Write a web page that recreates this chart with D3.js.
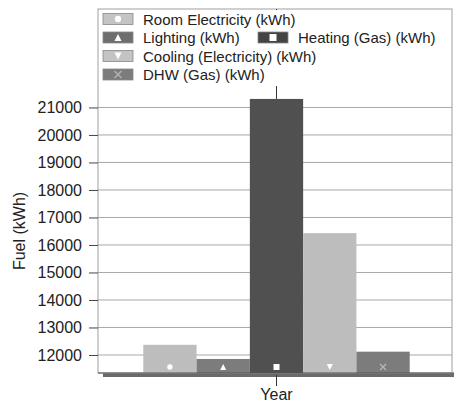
<!DOCTYPE html>
<html>
<head>
<meta charset="utf-8">
<script src="https://cdnjs.cloudflare.com/ajax/libs/d3/7.8.5/d3.min.js"></script>
<style>
  body { margin: 0; background: #fff; }
  text { font-family: "Liberation Sans", Arial, sans-serif; }
</style>
</head>
<body>
<div id="chart"></div>
<script>
// data
const categories = ['Year'];
const seriesNames = ['Room Electricity (kWh)', 'Lighting (kWh)', 'Heating (Gas) (kWh)', 'Cooling (Electricity) (kWh)', 'DHW (Gas) (kWh)'];
const seriesValues = [12370, 11855, 21310, 16430, 12120];
const seriesSymbols = ['circle', 'triUp', 'square', 'triDown', 'cross'];
const yTicks = [12000, 13000, 14000, 15000, 16000, 17000, 18000, 19000, 20000, 21000];
const yDomain = [11345, 24580];

const width = 454, height = 403;
const margin = { top: 9, right: 2, bottom: 30, left: 98 };
const fills = ['#bdbdbd', '#7c7c7c', '#505050', '#bdbdbd', '#7c7c7c'];
const swatchFills = ['#c4c4c4', '#6e6e6e', '#444444', '#c4c4c4', '#7c7c7c'];

const svg = d3.select('#chart')
    .append('svg')
    .attr('width', width)
    .attr('height', height);

let x = d3.scaleBand()
    .domain(categories)
    .range([margin.left, width + 1]);

let xSub = d3.scaleBand()
    .domain(seriesNames)
    .paddingOuter(0.85)
    .range([0, x.bandwidth()]);

let y = d3.scaleLinear()
    .domain(yDomain)
    .range([height - margin.bottom, margin.top]);

// shadow under plot area
svg.append('rect')
    .attr('x', margin.left + 5)
    .attr('y', y(yDomain[0]))
    .attr('width', width - margin.left - 5)
    .attr('height', 4)
    .attr('fill', '#6a6a6a');

// frame
svg.append('rect')
    .attr('x', margin.left)
    .attr('y', margin.top)
    .attr('width', width - margin.right - margin.left)
    .attr('height', y(yDomain[0]) - margin.top)
    .attr('fill', '#fff')
    .attr('stroke', '#b0b0b0')
    .attr('stroke-width', 1.2);

// gridlines
svg.append('g')
    .selectAll('line')
    .data(yTicks)
    .enter()
    .append('line')
    .attr('x1', margin.left)
    .attr('x2', width - margin.right)
    .attr('y1', d => y(d))
    .attr('y2', d => y(d))
    .attr('stroke', '#a8a8a8')
    .attr('stroke-width', 1);

// y axis
let yAxis = (g) => g
    .attr('transform', `translate(${margin.left},0)`)
    .call(d3.axisLeft(y).tickValues(yTicks).tickSize(9).tickPadding(7).tickFormat(d3.format('d')));

svg.append('g')
    .call(yAxis)
    .call(g => g.select('.domain').remove())
    .call(g => g.selectAll('.tick line').attr('stroke', '#444'))
    .call(g => g.selectAll('.tick text')
        .attr('font-size', '16px')
        .attr('fill', '#222')
        .style('font-family', '"Liberation Sans", Arial, sans-serif'));

// top tick (behind bars and legend)
const cx = x('Year') + x.bandwidth() / 2;
svg.append('line')
    .attr('x1', cx).attr('x2', cx)
    .attr('y1', margin.top)
    .attr('y2', y(seriesValues[2]))
    .attr('stroke', '#333');

// bars
svg.append('g')
    .selectAll('rect')
    .data(seriesNames)
    .enter()
    .append('rect')
    .attr('x', d => x('Year') + xSub(d))
    .attr('y', (d, i) => y(seriesValues[i]))
    .attr('width', xSub.bandwidth())
    .attr('height', (d, i) => y(yDomain[0]) - y(seriesValues[i]))
    .attr('fill', (d, i) => fills[i]);

// markers
function drawSymbol(g, type, cxx, cyy, s) {
    if (type === 'circle') {
        g.append('circle').attr('cx', cxx).attr('cy', cyy).attr('r', s * 0.45).attr('fill', '#fff');
    } else if (type === 'square') {
        g.append('rect').attr('x', cxx - s / 2).attr('y', cyy - s / 2).attr('width', s).attr('height', s).attr('fill', '#fff');
    } else if (type === 'triUp') {
        g.append('path').attr('d', `M${cxx},${cyy - s / 2}L${cxx + s / 2},${cyy + s / 2}L${cxx - s / 2},${cyy + s / 2}Z`).attr('fill', '#fff');
    } else if (type === 'triDown') {
        g.append('path').attr('d', `M${cxx - s / 2},${cyy - s / 2}L${cxx + s / 2},${cyy - s / 2}L${cxx},${cyy + s / 2}Z`).attr('fill', '#fff');
    } else {
        g.append('path').attr('d', `M${cxx - s / 2},${cyy - s / 2}L${cxx + s / 2},${cyy + s / 2}M${cxx + s / 2},${cyy - s / 2}L${cxx - s / 2},${cyy + s / 2}`)
            .attr('stroke', '#b8b8b8').attr('stroke-width', 1.2).attr('fill', 'none');
    }
}

const markers = svg.append('g');
seriesNames.forEach((d, i) => {
    drawSymbol(markers, seriesSymbols[i], x('Year') + xSub(d) + xSub.bandwidth() / 2, y(yDomain[0]) - 6, 6);
});

// bottom axis line and tick
svg.append('line')
    .attr('x1', margin.left).attr('x2', width)
    .attr('y1', y(yDomain[0])).attr('y2', y(yDomain[0]))
    .attr('stroke', '#555').attr('stroke-width', 1);
svg.append('line')
    .attr('x1', cx).attr('x2', cx)
    .attr('y1', y(yDomain[0]) + 2)
    .attr('y2', y(yDomain[0]) + 13)
    .attr('stroke', '#333');

svg.append('text')
    .attr('x', cx)
    .attr('y', 400)
    .attr('text-anchor', 'middle')
    .attr('font-size', '16px')
    .attr('fill', '#222')
    .text(categories[0]);

// y label
svg.append('text')
    .attr('transform', 'translate(25, 231) rotate(270)')
    .attr('text-anchor', 'middle')
    .attr('font-size', '16px')
    .attr('fill', '#222')
    .text('Fuel (kWh)');

// legend
const legend = svg.append('g');
legend.append('rect')
    .attr('x', margin.left + 1)
    .attr('y', margin.top + 1)
    .attr('width', width - margin.right - margin.left - 2)
    .attr('height', 76)
    .attr('fill', '#fff');

const legendPos = [[103, 19], [103, 37.5], [258, 37.5], [103, 56], [103, 74.5]];
seriesNames.forEach((d, i) => {
    const [lx, ly] = legendPos[i];
    legend.append('rect')
        .attr('x', lx)
        .attr('y', ly - 5.5)
        .attr('width', 30)
        .attr('height', 11)
        .attr('fill', swatchFills[i])
        .attr('stroke', '#888')
        .attr('stroke-width', 0.8);
    drawSymbol(legend, seriesSymbols[i], lx + 15, ly, 7);
    legend.append('text')
        .attr('x', lx + 40)
        .attr('y', ly + 5.5)
        .attr('font-size', '15px')
        .attr('fill', '#222')
        .text(d);
});
</script>
</body>
</html>
